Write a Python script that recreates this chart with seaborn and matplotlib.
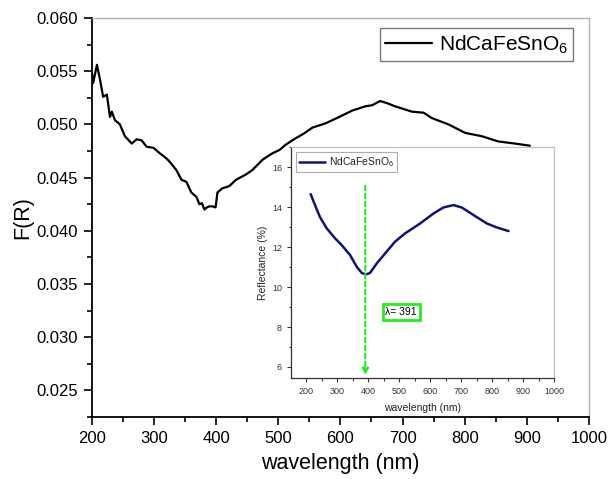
import numpy as np
import pandas as pd
import matplotlib
matplotlib.use("Agg")
import matplotlib.pyplot as plt
import seaborn as sns
from matplotlib.ticker import MultipleLocator

# ---- main spectrum F(R) ----
main_wl = [200, 202, 208, 213, 218, 224, 229, 232, 237, 245, 253, 264, 272, 280, 288, 299,
           309, 320, 325, 336, 344, 352, 360, 368, 373, 377, 381, 385, 389, 394, 399,
           402, 410, 421, 432, 448, 458, 475, 491, 502, 512, 528, 540, 555, 576, 598, 619,
           640, 651, 664, 675, 688, 715, 734, 747, 774, 801, 827, 854, 881, 905]
main_fr = [0.0548, 0.0539, 0.0556, 0.0542, 0.0526, 0.0528, 0.0507, 0.0512, 0.0504, 0.0500,
           0.0489, 0.0482, 0.0486, 0.0485, 0.0479, 0.0478, 0.0473, 0.0468,
           0.0465, 0.0457, 0.0448, 0.0446, 0.0436, 0.0432, 0.0425, 0.0426, 0.0420, 0.0422,
           0.0423, 0.0423, 0.0422, 0.0436, 0.0440, 0.0442, 0.0448, 0.0453, 0.0457, 0.0467,
           0.0473, 0.0476, 0.0481, 0.0487, 0.0491, 0.0497, 0.0501, 0.0507, 0.0513, 0.0517,
           0.0518, 0.0522, 0.0520, 0.0517, 0.0512, 0.0511, 0.0506, 0.0500, 0.0492, 0.0489,
           0.0484, 0.0482, 0.0480]

# ---- inset reflectance ----
ins_wl = [215, 229, 245, 267, 294, 315, 342, 364, 380, 393, 406, 428, 455, 487, 519,
          568, 611, 643, 675, 702, 740, 783, 815, 853]
ins_r = [14.65, 14.1, 13.5, 12.93, 12.43, 12.1, 11.6, 11.0, 10.7, 10.63, 10.7, 11.18,
         11.68, 12.27, 12.68, 13.18, 13.68, 13.98, 14.1, 13.98, 13.6, 13.18, 12.98, 12.8]

x_ticks = [200, 300, 400, 500, 600, 700, 800, 900, 1000]
y_ticks = [0.025, 0.030, 0.035, 0.040, 0.045, 0.050, 0.055, 0.060]
ins_y_ticks = [6, 8, 10, 12, 14, 16]
lambda_min = 391
label = "NdCaFeSnO$_6$"

sns.set_theme(style="ticks")
plt.rcParams['font.family'] = ['Liberation Sans', 'DejaVu Sans']
plt.rcParams['mathtext.fontset'] = 'custom'
plt.rcParams['mathtext.rm'] = 'Liberation Sans'
plt.rcParams['text.color'] = 'black'
plt.rcParams['axes.labelcolor'] = 'black'

fig = plt.figure(figsize=(6.09, 4.79), dpi=100)
ax = fig.add_axes([0.151, 0.1294, 0.816, 0.833])

df_main = pd.DataFrame({"wl": main_wl, "fr": main_fr})
sns.lineplot(data=df_main, x="wl", y="fr", ax=ax, color="black", lw=1.6, label=label)
ax.set_xlim(200, 1000)
ax.set_ylim(0.0225, 0.060)
ax.set_xticks(x_ticks)
ax.set_yticks(y_ticks)
ax.set_yticklabels([f"{v:.3f}" for v in y_ticks])
ax.xaxis.set_minor_locator(MultipleLocator(50))
ax.yaxis.set_minor_locator(MultipleLocator(0.0025))
ax.tick_params(which="major", direction="out", length=6, width=1.2, labelsize=12,
               colors="black", pad=4)
ax.tick_params(which="minor", direction="out", length=3.5, width=1.2, colors="black")
ax.set_xlabel("wavelength (nm)", fontsize=15.5, labelpad=5, color="black")
ax.set_ylabel("F(R)", fontsize=15.5, labelpad=2, color="black")
for s in ["left", "bottom"]:
    ax.spines[s].set_color("black")
    ax.spines[s].set_linewidth(1.3)
for s in ["top", "right"]:
    ax.spines[s].set_color("#b0b0b0")
    ax.spines[s].set_linewidth(1.0)
leg = ax.legend(loc="upper right", bbox_to_anchor=(0.968, 0.975), fontsize=15, frameon=True,
                fancybox=False, handlelength=2.25, borderpad=0.25, handletextpad=0.3,
                borderaxespad=0)
leg.get_frame().set_edgecolor("#555555")
leg.get_frame().set_linewidth(1.0)
for t in leg.get_texts():
    t.set_color("black")

# ---- inset ----
ia = fig.add_axes([0.478, 0.2109, 0.432, 0.482])
ia.set_facecolor("white")
df_ins = pd.DataFrame({"wl": ins_wl, "r": ins_r})
sns.lineplot(data=df_ins, x="wl", y="r", ax=ia, color="#12127a", lw=1.8, label=label)
ia.set_xlim(152, 1000)
ia.set_ylim(5.45, 17)
ia.set_xticks(x_ticks)
ia.set_yticks(ins_y_ticks)
ia.xaxis.set_minor_locator(MultipleLocator(50))
ia.yaxis.set_minor_locator(MultipleLocator(1))
ia.tick_params(which="major", direction="out", length=3, width=0.8, labelsize=6.5,
               colors="#333333")
ia.tick_params(which="minor", direction="out", length=1.8, width=0.8, colors="#333333")
ia.set_xlabel("wavelength (nm)", fontsize=7.5, labelpad=5, color="#222222")
ia.set_ylabel("Reflectance (%)", fontsize=7.5, labelpad=3, color="#222222")
for s in ["left", "bottom"]:
    ia.spines[s].set_color("#333333")
    ia.spines[s].set_linewidth(0.9)
for s in ["top", "right"]:
    ia.spines[s].set_color("#c0c0c0")
    ia.spines[s].set_linewidth(0.9)
il = ia.legend(loc="upper left", bbox_to_anchor=(0.0, 1.0), fontsize=7.5, frameon=True,
               fancybox=False, handlelength=2.5, borderpad=0.3, handletextpad=0.3)
il.get_frame().set_edgecolor("#999999")
il.get_frame().set_linewidth(0.8)
for t in il.get_texts():
    t.set_color("#222222")

# green dashed arrow at minimum
ia.annotate("", xy=(lambda_min, 5.45), xytext=(lambda_min, 15.2),
            arrowprops=dict(arrowstyle="-|>", color="#22ee22", lw=1.6, ls=(0, (2, 1.6)),
                            mutation_scale=9))
ia.text(507, 8.75, f"λ= {lambda_min}", fontsize=7.5, ha="center", va="center",
        color="black",
        bbox=dict(boxstyle="square,pad=0.25", fc="white", ec="#22ee22", lw=2))

fig.savefig("out.png", dpi=100)
